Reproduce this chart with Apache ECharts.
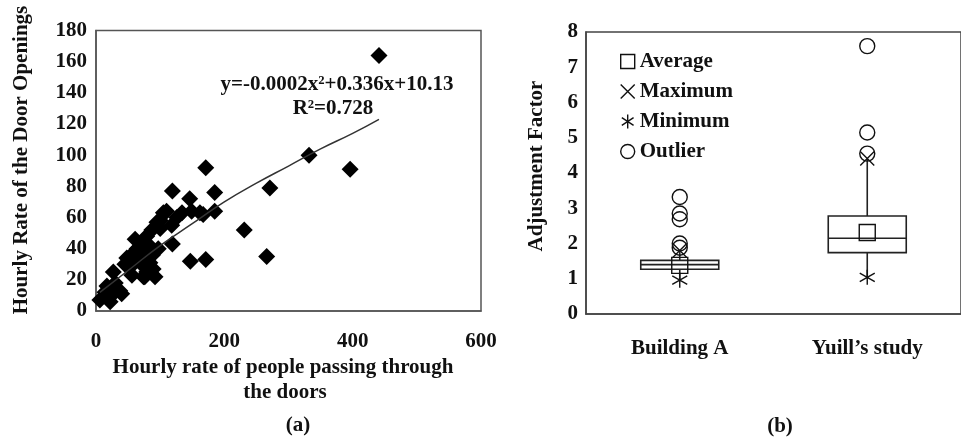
<!DOCTYPE html>
<html><head><meta charset="utf-8">
<script src="https://cdn.jsdelivr.net/npm/echarts@6/dist/echarts.min.js"></script>
<style>html,body{margin:0;padding:0;background:#fff}#c{width:961px;height:438px}</style>
</head><body><div id="c"></div>
<script>
// (a) scatter: hourly rate of people (x) vs hourly door openings (y)
const peoplePerHour = [441,332,396,271,231,266,171,185,185,146,119,119,147,171,97,162,149,134,110,126,118,95,87,79,71,61,58,48,69,56,74,92,89,79,45,27,17,37,27,6,22,30,14,69,79,84,100,105,167,63,53,76,40,64,83,88,100];
const doorOpenings = [164,100,91,79,52,35,92,76,64,72,77,43,32,33,40,63,64,63,64,60,55,57,52,48,43,46,37,34,31,23,22,22,27,25,30,25,16,13,11,7,6,18,12,40,37,31,58,63,62,33,28,22,11,40,42,36,53];
// fitted trendline
const trendPeople = [6,50,100,150,200,250,300,350,400,441];
const trendOpenings = [12,26,42,56,70,82,93,104,114,123];
const xTicks = {min:0, max:600, interval:200};
const yTicks = {min:0, max:180, interval:20};

// (b) box plot of adjustment factor
const categories = ['Building A', 'Yuill\u2019s study'];
const boxMin = [0.96, 1.04];
const boxQ1 = [1.27, 1.74];
const boxMedian = [1.40, 2.15];
const boxQ3 = [1.52, 2.78];
const boxMax = [1.80, 4.41];
const averageVal = [1.38, 2.31];
const outlierCat = [0,0,0,0,0,1,1,1];
const outlierVal = [3.32,2.85,2.69,2.00,1.88,7.60,5.15,4.55];
const bTicks = {min:0, max:8, interval:1};

const FONT_FAMILY = '"Liberation Serif", "Times New Roman", serif';
const FS = 21;
const FONT = 'bold ' + FS + 'px ' + FONT_FAMILY;
const INK = '#111';
const LINE = '#444';

const X_PATH = 'path://M0,0L10,10M10,0L0,10';
const AST_PATH = 'path://M5,0L5,10M0.8,2.2L9.2,7.8M0.8,7.8L9.2,2.2';
const open = {color:'transparent', borderColor: INK, borderWidth: 1.4, opacity: 1};

const labelStyle = {color: INK, fontFamily: FONT_FAMILY, fontWeight: 'bold', fontSize: FS};

const chart = echarts.init(document.getElementById('c'));
chart.setOption({
  animation: false,
  backgroundColor: '#fff',
  grid: [
    {left: 96, top: 30.5, width: 385, height: 280.5, show: true, borderColor: '#555', borderWidth: 1.5, backgroundColor: 'transparent'},
    {left: 586, top: 32, width: 388, height: 282, show: true, borderColor: LINE, borderWidth: 1.5, backgroundColor: 'transparent'}
  ],
  xAxis: [
    {gridIndex: 0, type: 'value', min: xTicks.min, max: xTicks.max, interval: xTicks.interval,
     axisLine: {show: true, lineStyle: {color: '#555', width: 1.5}}, axisTick: {show: false}, splitLine: {show: false},
     axisLabel: Object.assign({margin: 20}, labelStyle)},
    {gridIndex: 1, type: 'category', data: categories, boundaryGap: true,
     axisLine: {show: true, lineStyle: {color: LINE, width: 1.5}}, axisTick: {show: false}, splitLine: {show: false},
     axisLabel: Object.assign({margin: 24}, labelStyle)}
  ],
  yAxis: [
    {gridIndex: 0, type: 'value', min: yTicks.min, max: yTicks.max, interval: yTicks.interval,
     axisLine: {show: true, lineStyle: {color: '#555', width: 1.5}}, axisTick: {show: false}, splitLine: {show: false},
     axisLabel: Object.assign({margin: 9}, labelStyle)},
    {gridIndex: 1, type: 'value', min: bTicks.min, max: bTicks.max, interval: bTicks.interval,
     axisLine: {show: true, lineStyle: {color: LINE, width: 1.5}}, axisTick: {show: false}, splitLine: {show: false},
     axisLabel: Object.assign({margin: 8}, labelStyle)}
  ],
  legend: {
    orient: 'vertical', left: 620, top: 51, padding: 0, itemWidth: 14, itemHeight: 14, itemGap: 9,
    textStyle: Object.assign({lineHeight: 21, padding: [0,0,0,0]}, labelStyle),
    data: [
      {name: 'Average', icon: 'rect', itemStyle: open},
      {name: 'Maximum', icon: X_PATH, itemStyle: open},
      {name: 'Minimum', icon: AST_PATH, itemStyle: open},
      {name: 'Outlier', icon: 'circle', itemStyle: open}
    ],
    selectedMode: false
  },
  series: [
    {type: 'scatter', xAxisIndex: 0, yAxisIndex: 0, symbol: 'diamond', symbolSize: 17,
     itemStyle: {color: '#000', opacity: 1}, z: 3,
     data: peoplePerHour.map((x, i) => [x, doorOpenings[i]])},
    {type: 'line', xAxisIndex: 0, yAxisIndex: 0, smooth: true, showSymbol: false, z: 4,
     lineStyle: {color: '#333', width: 1.5},
     data: trendPeople.map((x, i) => [x, trendOpenings[i]])},
    {type: 'custom', xAxisIndex: 1, yAxisIndex: 1, z: 2,
     data: categories.map((c, i) => [i, boxMin[i], boxQ1[i], boxMedian[i], boxQ3[i], boxMax[i]]),
     encode: {x: 0, y: [1, 2, 3, 4, 5]},
     renderItem: function (params, api) {
       const i = api.value(0);
       const pMin = api.coord([i, api.value(1)]);
       const pQ1 = api.coord([i, api.value(2)]);
       const pMed = api.coord([i, api.value(3)]);
       const pQ3 = api.coord([i, api.value(4)]);
       const pMax = api.coord([i, api.value(5)]);
       const hw = 39, cx = pMin[0];
       const style = {stroke: '#222', lineWidth: 1.6, fill: 'none'};
       return {type: 'group', children: [
         {type: 'line', shape: {x1: cx, y1: pMax[1], x2: cx, y2: pQ3[1]}, style: style},
         {type: 'line', shape: {x1: cx, y1: pQ1[1], x2: cx, y2: pMin[1]}, style: style},
         {type: 'rect', shape: {x: cx - hw, y: pQ3[1], width: 2 * hw, height: pQ1[1] - pQ3[1]}, style: style},
         {type: 'line', shape: {x1: cx - hw, y1: pMed[1], x2: cx + hw, y2: pMed[1]}, style: style}
       ]};
     }},
    {name: 'Average', type: 'scatter', xAxisIndex: 1, yAxisIndex: 1, symbol: 'rect', symbolSize: 16,
     itemStyle: open, z: 5, data: categories.map((c, i) => [i, averageVal[i]])},
    {name: 'Maximum', type: 'scatter', xAxisIndex: 1, yAxisIndex: 1, symbol: X_PATH, symbolSize: 14,
     itemStyle: open, z: 5, data: categories.map((c, i) => [i, boxMax[i]])},
    {name: 'Minimum', type: 'scatter', xAxisIndex: 1, yAxisIndex: 1, symbol: AST_PATH, symbolSize: 15,
     itemStyle: open, z: 5, data: categories.map((c, i) => [i, boxMin[i]])},
    {name: 'Outlier', type: 'scatter', xAxisIndex: 1, yAxisIndex: 1, symbol: 'circle', symbolSize: 15,
     itemStyle: open, z: 5, data: outlierVal.map((v, i) => [outlierCat[i], v])}
  ],
  graphic: [
    {type: 'text', x: 22, y: 160, rotation: Math.PI / 2,
     style: {text: 'Hourly Rate of the Door Openings', font: FONT, fill: INK, textAlign: 'center', textVerticalAlign: 'middle'}},
    {type: 'text', x: 283, y: 368,
     style: {text: 'Hourly rate of people passing through', font: FONT, fill: INK, textAlign: 'center', textVerticalAlign: 'middle'}},
    {type: 'text', x: 285, y: 393,
     style: {text: 'the doors', font: FONT, fill: INK, textAlign: 'center', textVerticalAlign: 'middle'}},
    {type: 'text', x: 298, y: 426,
     style: {text: '(a)', font: FONT, fill: INK, textAlign: 'center', textVerticalAlign: 'middle'}},
    {type: 'text', x: 337, y: 85,
     style: {text: 'y=-0.0002x\u00b2+0.336x+10.13', font: FONT, fill: INK, textAlign: 'center', textVerticalAlign: 'middle'}},
    {type: 'text', x: 333, y: 109,
     style: {text: 'R\u00b2=0.728', font: FONT, fill: INK, textAlign: 'center', textVerticalAlign: 'middle'}},
    {type: 'text', x: 537, y: 166, rotation: Math.PI / 2,
     style: {text: 'Adjustment Factor', font: FONT, fill: INK, textAlign: 'center', textVerticalAlign: 'middle'}},
    {type: 'text', x: 780, y: 427,
     style: {text: '(b)', font: FONT, fill: INK, textAlign: 'center', textVerticalAlign: 'middle'}}
  ]
});
</script>
</body></html>
